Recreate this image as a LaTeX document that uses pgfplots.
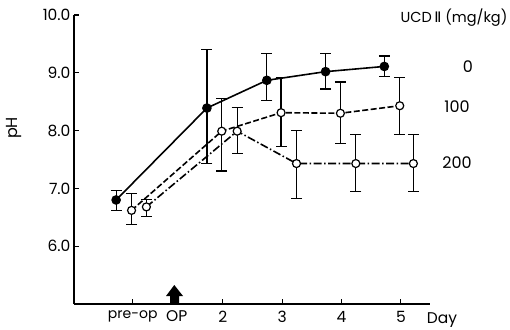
\documentclass[border=0pt]{standalone}
\usepackage{pgfplots}
\pgfplotsset{compat=1.18}
\usepackage{pgfplotstable}
\usepackage{fontspec}
\setmainfont{Poppins}
\newfontfamily\dejavu{DejaVu Sans}

\pgfplotstableread{
x y ep em
0.20 6.80 0.17 0.18
1.73 8.39 1.01 0.96
2.74 8.87 0.46 0.35
3.73 9.02 0.31 0.30
4.72 9.11 0.18 0.18
}\dzero
\pgfplotstableread{
x y ep em
0.46 6.62 0.29 0.25
1.98 7.99 0.56 0.69
2.98 8.31 0.61 0.59
3.98 8.30 0.54 0.52
4.98 8.43 0.49 0.50
}\dhundred
\pgfplotstableread{
x y ep em
0.71 6.68 0.13 0.16
2.24 7.99 0.41 0.39
3.24 7.43 0.57 0.61
4.24 7.43 0.50 0.49
5.21 7.43 0.50 0.49
}\dtwohundred

\begin{document}
\begin{tikzpicture}
\useasboundingbox (-74pt,-25pt) rectangle (436pt,304pt);
\begin{axis}[
  scale only axis, width=356pt, height=289pt,
  xmin=-0.51, xmax=5.49, ymin=5, ymax=10,
  axis lines=left,
  axis line style={-, line width=1.1pt},
  tick align=inside,
  major tick length=5pt,
  tick style={line width=1.1pt, black},
  xtick={0.48,2,3,4,5},
  xticklabels={{\fontsize{14}{16}\selectfont pre-op},2,3,4,5},
  extra x ticks={1.22},
  extra x tick labels={OP},
  extra x tick style={major tick length=0pt},
  ytick={6,7,8,9,10},
  yticklabels={6.0,7.0,8.0,9.0,10.0},
  /pgf/number format/assume math mode=true,
  ticklabel style={font=\fontsize{15.5}{18}\selectfont},
  xticklabel style={yshift=-3.5pt},
  clip=false,
  error bars/y dir=both,
  error bars/y explicit,
  error bars/error bar style={line width=1.2pt, solid},
  error bars/error mark options={rotate=90, mark size=5.5pt, line width=1.2pt, solid},
]
\addplot[black, line width=1.6pt, mark=*, mark size=4pt, mark options={solid, fill=black}]
  table[x=x, y=y, y error plus=ep, y error minus=em]{\dzero};
\addplot[black, line width=1.6pt, dash pattern=on 6pt off 2.5pt, mark=*, mark size=4pt, mark options={solid, fill=white, draw=black, line width=1.2pt}]
  table[x=x, y=y, y error plus=ep, y error minus=em]{\dhundred};
\addplot[black, line width=1.6pt, dash pattern=on 8pt off 2.5pt on 1.5pt off 2.5pt, mark=*, mark size=4pt, mark options={solid, fill=white, draw=black, line width=1.2pt}]
  table[x=x, y=y, y error plus=ep, y error minus=em]{\dtwohundred};
\end{axis}
\fill[black] (96pt,0pt) -- (96pt,8pt) -- (92pt,8pt) -- (100.3pt,19pt) -- (109pt,8pt) -- (105pt,8pt) -- (105pt,0pt) -- cycle;
\node[rotate=90, font=\fontsize{16}{18}\selectfont] at (-60pt,176pt) {pH};
\node[anchor=base, font=\fontsize{15.5}{18}\selectfont] at (368pt,-19pt) {Day};
\node[font=\fontsize{14.5}{17}\selectfont] at (380pt,286pt) {UCD\,{\dejavu Ⅱ} (mg/kg)};
\node[font=\fontsize{16}{18}\selectfont] at (394pt,237pt) {0};
\node[font=\fontsize{16}{18}\selectfont] at (383pt,197pt) {100};
\node[font=\fontsize{16}{18}\selectfont] at (383pt,141pt) {200};
\end{tikzpicture}
\end{document}
